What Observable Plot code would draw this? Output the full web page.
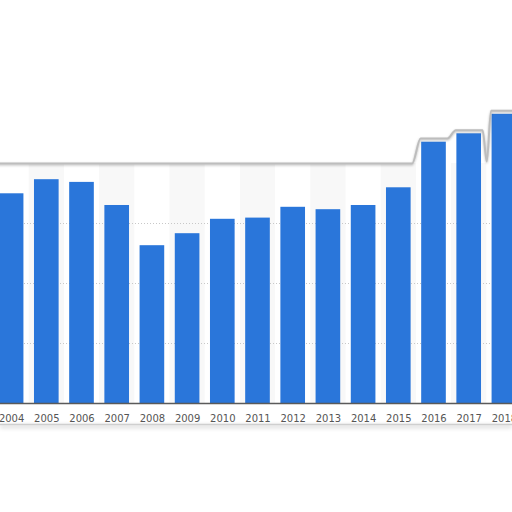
<!DOCTYPE html>
<html>
<head>
<meta charset="utf-8">
<script src="https://cdn.jsdelivr.net/npm/d3@7"></script>
<script src="https://cdn.jsdelivr.net/npm/@observablehq/plot@0.6"></script>
<style>
  html, body { margin: 0; padding: 0; background: #fff; }
  #chart svg { display: block; }
</style>
</head>
<body>
<div id="chart"></div>
<script>
// Data
const years = [2004, 2005, 2006, 2007, 2008, 2009, 2010, 2011, 2012, 2013, 2014, 2015, 2016, 2017, 2018];
const values = [69.9, 74.6, 73.7, 66.0, 52.6, 56.6, 61.4, 61.8, 65.4, 64.6, 66.0, 71.9, 87.1, 89.9, 96.4];
const gridValues = [20, 40, 60];
const tickLabels = years.map(String);

const data = years.map((year, i) => ({year, value: values[i], label: tickLabels[i]}));

const paperTop = 80;
const half = 0.35;

// outline of the "paper" top edge, following tall bars
const outline = [];
outline.push({x: years[0] - 0.6, y: paperTop});
data.forEach((d, i) => {
  const t = Math.max(paperTop, d.value + 1.2);
  outline.push({x: d.year - half - 0.03, y: t});
  outline.push({x: d.year + half + 0.03, y: t});
  const next = data[i + 1];
  if (next && d.value > paperTop && next.value > paperTop && next.value - d.value > 5) {
    outline.push({x: d.year + 0.5, y: paperTop + 0.7});
  }
});
outline.push({x: years[years.length - 1] + 0.6, y: Math.max(paperTop, values[values.length - 1] + 1.2)});

const stripes = data.filter((d, i) => i % 2 === 1);

const chart = Plot.plot({
  width: 512,
  height: 512,
  margin: 0,
  style: {background: "#fff", fontFamily: "DejaVu Sans, Verdana, sans-serif"},
  x: {type: "linear", domain: [2004, 2018], range: [11.1, 503.9], axis: null},
  y: {domain: [0, 134.33], range: [403, 0], axis: null},
  marks: [
    Plot.rect(stripes, {x1: d => d.year - 0.5, x2: d => d.year + 0.5, y1: 0, y2: paperTop, fill: "#f8f8f8"}),
    Plot.ruleY(gridValues, {stroke: "#c8c8c8", strokeWidth: 1, strokeDasharray: "1,2"}),
    Plot.rect(data, {x1: d => d.year - half, x2: d => d.year + half, y1: 0, y2: "value", fill: "#2a76da"}),
    Plot.line(outline, {x: "x", y: "y", stroke: "#bdbdbd", strokeWidth: 2, curve: "monotone-x"}),
    Plot.ruleY([0], {stroke: "#5a5a5a", strokeWidth: 1.5}),
    Plot.ruleY([-7], {stroke: "#cfcfcf", strokeWidth: 1.5}),
    Plot.text(data, {x: "year", y: 0, dy: 15, text: "label", fill: "#555", fontSize: 10, textAnchor: "middle"})
  ]
});

// soft shadows on the paper edges
d3.select(chart).selectAll('g[aria-label="line"] path').style("filter", "drop-shadow(0px 1px 1px rgba(0,0,0,0.25))");
d3.select(chart).selectAll('g[aria-label="rule"]').filter((d, i, n) => i === 2).style("filter", "drop-shadow(0px 2px 2px rgba(0,0,0,0.3))");

document.getElementById("chart").appendChild(chart);
</script>
</body>
</html>
